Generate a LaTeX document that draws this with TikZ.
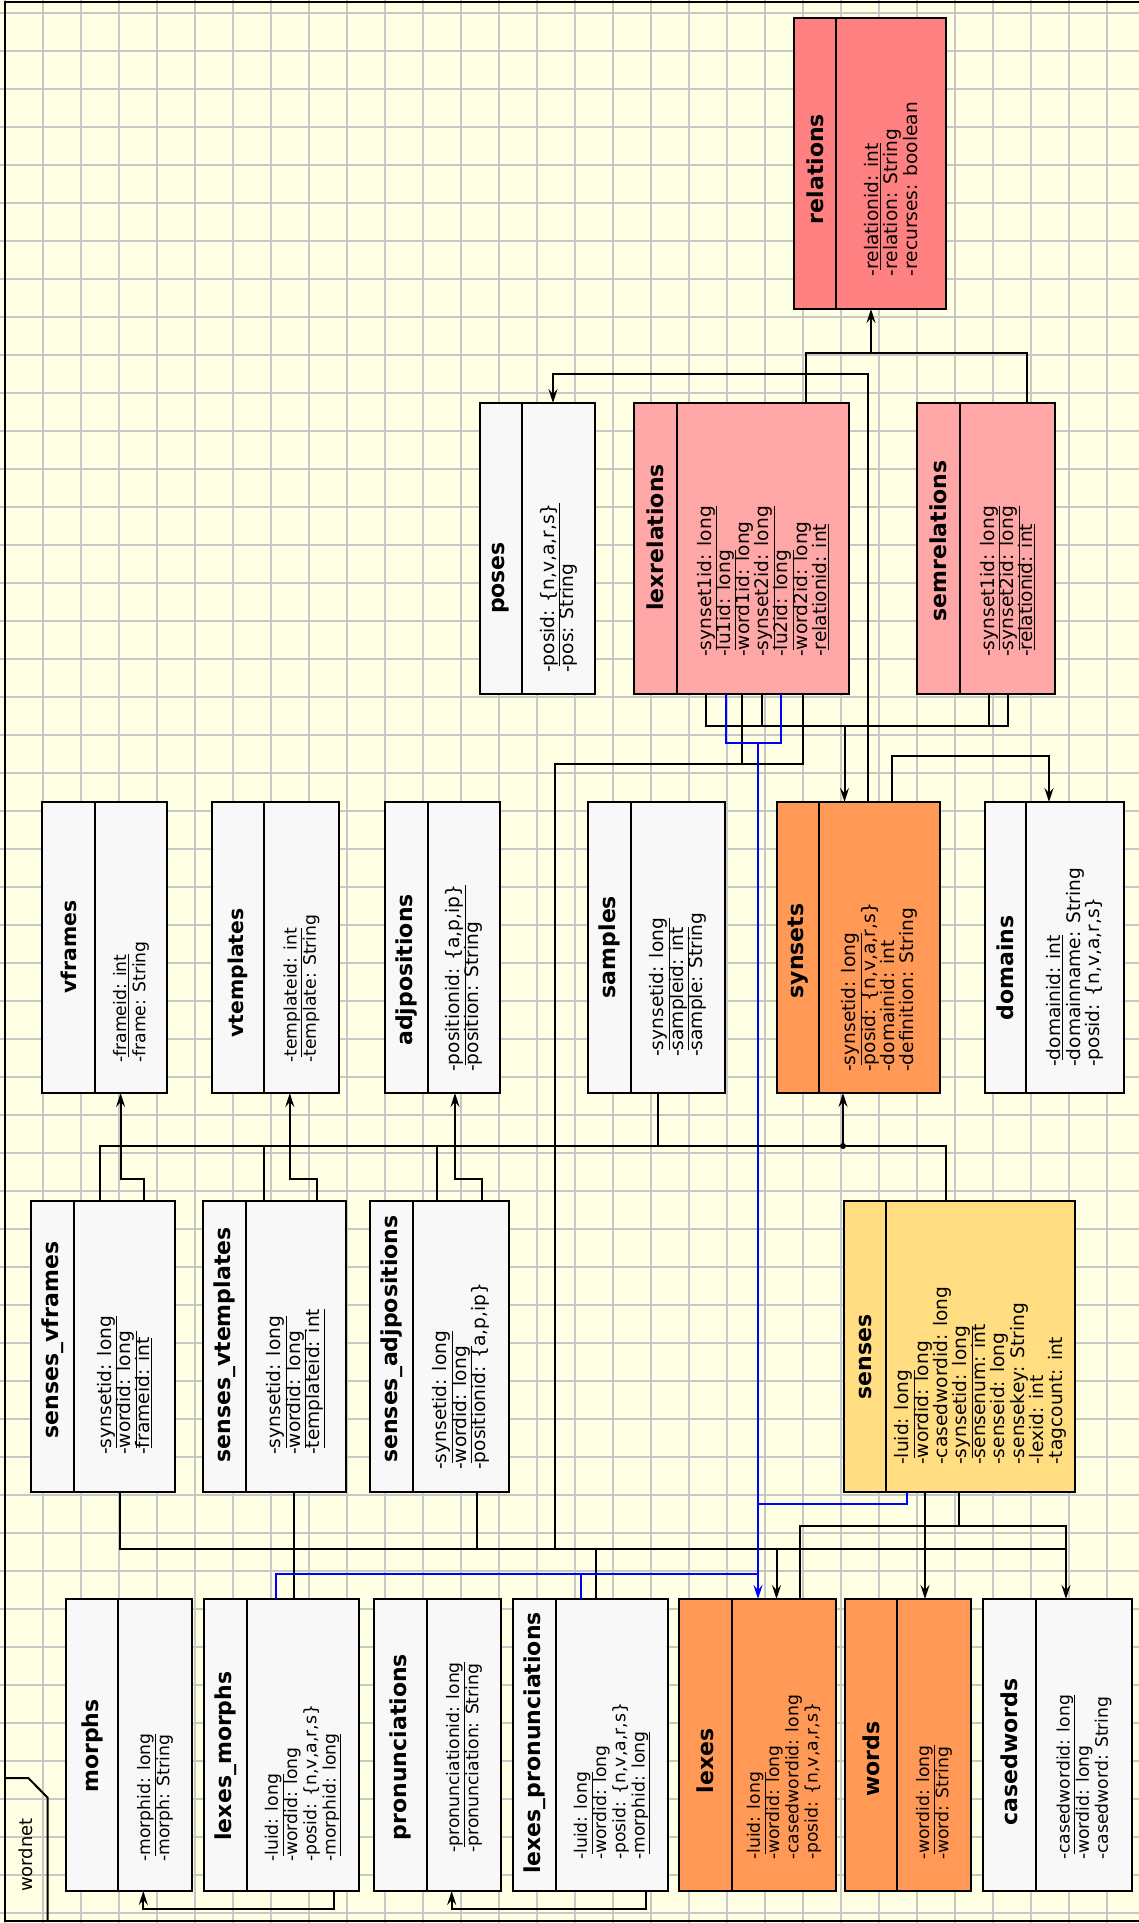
\documentclass[tikz,border=0pt]{standalone}
\usepackage{fontspec}
\setmainfont{DejaVu Sans}
\usepackage{xcolor}
\usetikzlibrary{arrows.meta}

\definecolor{paper}{RGB}{255,255,228}
\definecolor{gridgray}{RGB}{200,200,200}
\definecolor{tblgray}{RGB}{248,248,248}
\definecolor{tblorange}{RGB}{255,153,85}
\definecolor{tblsense}{RGB}{255,221,128}
\definecolor{tblpink}{RGB}{255,166,166}
\definecolor{tblred}{RGB}{255,128,128}

% attribute lines: fixed spacing even with underlines
\newcommand{\attrfont}{\fontsize{18.6}{19.2}\selectfont\lineskiplimit=-20pt\relax}
\newcommand{\attrfontsmall}{\fontsize{17.2}{19.2}\selectfont\lineskiplimit=-20pt\relax}

\begin{document}
\begin{tikzpicture}[
  x=1pt, y=-1pt,
  tbl/.style={draw, line width=2.5pt, inner sep=0pt, outer sep=0pt, minimum height=291},
  ttl/.style={rotate=90, inner sep=0pt, font=\fontsize{22}{24}\selectfont\bfseries},
  ttlsmall/.style={ttl, font=\fontsize{20.4}{22}\selectfont\bfseries},
  attr/.style={rotate=90, anchor=west, align=left, inner sep=0pt, font=\attrfont},
  attrsmall/.style={attr, font=\attrfontsmall},
  div/.style={line width=2pt},
  conn/.style={line width=2pt},
  arr/.style={conn, -{Stealth[length=14pt, width=9pt, inset=5pt]}},
  blueconn/.style={conn, draw=blue},
  bluearr/.style={arr, draw=blue, fill=blue},
  gridline/.style={draw=gridgray, line width=2pt},
  frameline/.style={line width=2pt}
]
  \useasboundingbox (0,0) rectangle (1139,1923);
  \clip (0,0) rectangle (1139,1923);
  \fill[paper] (0,0) rectangle (1139,1923);

  % grid
  \foreach \gx in {0,...,30}
    \draw[gridline] ({5.3+38*\gx},0) -- ++(0,1923);
  \foreach \gy in {0,...,50}
    \draw[gridline] (0,{12.7+38*\gy}) -- ++(1139,0);

  % package frame
  \draw[frameline] (5,1.5) rectangle (1160,1920.5);
  \draw[frameline] (5,1778) -- (28.3,1778) -- (47.7,1797.7) -- (47.7,1920.5);
  \node[rotate=90, inner sep=0pt, font=\fontsize{18}{20}\selectfont] (pkg) at (25.5,1855) {wordnet};

  % tables
  \node[tbl, fill=tblred, minimum width=152] (relations) at (870,163.5) {};
  \node[tbl, fill=tblgray, minimum width=115] (poses) at (537.5,548.5) {};
  \node[tbl, fill=tblpink, minimum width=215] (lexrelations) at (741.5,548.5) {};
  \node[tbl, fill=tblpink, minimum width=138] (semrelations) at (986,548.5) {};
  \node[tbl, fill=tblgray, minimum width=125] (vframes) at (104.5,947.5) {};
  \node[tbl, fill=tblgray, minimum width=127] (vtemplates) at (275.5,947.5) {};
  \node[tbl, fill=tblgray, minimum width=115] (adjpositions) at (442.5,947.5) {};
  \node[tbl, fill=tblgray, minimum width=137] (samples) at (656.5,947.5) {};
  \node[tbl, fill=tblorange, minimum width=163] (synsets) at (858.5,947.5) {};
  \node[tbl, fill=tblgray, minimum width=139] (domains) at (1054.5,947.5) {};
  \node[tbl, fill=tblgray, minimum width=144] (senses_vframes) at (103,1346.5) {};
  \node[tbl, fill=tblgray, minimum width=143] (senses_vtemplates) at (274.5,1346.5) {};
  \node[tbl, fill=tblgray, minimum width=139] (senses_adjpositions) at (439.5,1346.5) {};
  \node[tbl, fill=tblsense, minimum width=231] (senses) at (959.5,1346.5) {};
  \node[tbl, fill=tblgray, minimum width=126, minimum height=292] (morphs) at (129,1745) {};
  \node[tbl, fill=tblgray, minimum width=155, minimum height=292] (lexes_morphs) at (281.5,1745) {};
  \node[tbl, fill=tblgray, minimum width=127, minimum height=292] (pronunciations) at (437.5,1745) {};
  \node[tbl, fill=tblgray, minimum width=155, minimum height=292] (lexes_pronunciations) at (590.5,1745) {};
  \node[tbl, fill=tblorange, minimum width=157, minimum height=292] (lexes) at (757.5,1745) {};
  \node[tbl, fill=tblorange, minimum width=126, minimum height=292] (words) at (908,1745) {};
  \node[tbl, fill=tblgray, minimum width=149, minimum height=292] (casedwords) at (1057.5,1745) {};

  % title dividers
  \draw[div] ([xshift=42]relations.north west) -- ([xshift=42]relations.south west);
  \draw[div] ([xshift=42]poses.north west) -- ([xshift=42]poses.south west);
  \draw[div] ([xshift=42.5]lexrelations.north west) -- ([xshift=42.5]lexrelations.south west);
  \draw[div] ([xshift=43]semrelations.north west) -- ([xshift=43]semrelations.south west);
  \draw[div] ([xshift=53]vframes.north west) -- ([xshift=53]vframes.south west);
  \draw[div] ([xshift=52]vtemplates.north west) -- ([xshift=52]vtemplates.south west);
  \draw[div] ([xshift=43]adjpositions.north west) -- ([xshift=43]adjpositions.south west);
  \draw[div] ([xshift=43]samples.north west) -- ([xshift=43]samples.south west);
  \draw[div] ([xshift=42]synsets.north west) -- ([xshift=42]synsets.south west);
  \draw[div] ([xshift=41]domains.north west) -- ([xshift=41]domains.south west);
  \draw[div] ([xshift=43]senses_vframes.north west) -- ([xshift=43]senses_vframes.south west);
  \draw[div] ([xshift=43]senses_vtemplates.north west) -- ([xshift=43]senses_vtemplates.south west);
  \draw[div] ([xshift=43]senses_adjpositions.north west) -- ([xshift=43]senses_adjpositions.south west);
  \draw[div] ([xshift=42]senses.north west) -- ([xshift=42]senses.south west);
  \draw[div] ([xshift=52]morphs.north west) -- ([xshift=52]morphs.south west);
  \draw[div] ([xshift=43]lexes_morphs.north west) -- ([xshift=43]lexes_morphs.south west);
  \draw[div] ([xshift=53]pronunciations.north west) -- ([xshift=53]pronunciations.south west);
  \draw[div] ([xshift=43]lexes_pronunciations.north west) -- ([xshift=43]lexes_pronunciations.south west);
  \draw[div] ([xshift=53]lexes.north west) -- ([xshift=53]lexes.south west);
  \draw[div] ([xshift=52]words.north west) -- ([xshift=52]words.south west);
  \draw[div] ([xshift=53]casedwords.north west) -- ([xshift=53]casedwords.south west);

  % titles
  \node[ttl] (relations-title) at (815,169) {relations};
  \node[ttl] (poses-title) at (501,578) {poses};
  \node[ttl] (lexrelations-title) at (655,537.5) {lexrelations};
  \node[ttl] (semrelations-title) at (938.5,541) {semrelations};
  \node[ttlsmall] (vframes-title) at (68.5,947) {vframes};
  \node[ttlsmall] (vtemplates-title) at (238,973) {vtemplates};
  \node[ttl] (adjpositions-title) at (406.5,970) {adjpositions};
  \node[ttl] (samples-title) at (609.5,947) {samples};
  \node[ttl] (synsets-title) at (798,951) {synsets};
  \node[ttl] (domains-title) at (1005.5,968) {domains};
  \node[ttl] (senses_vframes-title) at (52.5,1340) {senses\_vframes};
  \node[ttl] (senses_vtemplates-title) at (224.5,1345) {senses\_vtemplates};
  \node[ttl] (senses_adjpositions-title) at (391.5,1339) {senses\_adjpositions};
  \node[ttl] (senses-title) at (865,1357) {senses};
  \node[ttl] (morphs-title) at (92,1746) {morphs};
  \node[ttl] (lexes_morphs-title) at (225.5,1756) {lexes\_morphs};
  \node[ttl] (pronunciations-title) at (400.5,1747) {pronunciations};
  \node[ttl] (lexes_pronunciations-title) at (534.5,1743) {lexes\_pronunciations};
  \node[ttl] (lexes-title) at (705.5,1761) {lexes};
  \node[ttl] (words-title) at (871,1759) {words};
  \node[ttl] (casedwords-title) at (1009.5,1752) {casedwords};

  % attributes
  \node[attr] (relations-attr) at (891,276.5)
    {-\underline{relationid: int}\\-relation: String\\-recurses: boolean};
  \node[attr] (poses-attr) at (558.5,673)
    {-\underline{posid: \{n,v,a,r,s\}}\\-pos: String};
  \node[attr] (lexrelations-attr) at (762.75,657)
    {-\underline{synset1id: long}\\-\underline{lu1id: long}\\-word1id: long\\-\underline{synset2id: long}\\-\underline{lu2id: long}\\-word2id: long\\-\underline{relationid: int}};
  \node[attr] (semrelations-attr) at (1007.5,657)
    {-\underline{synset1id: long}\\-\underline{synset2id: long}\\-\underline{relationid: int}};
  \node[attrsmall] (vframes-attr) at (131,1063)
    {-\underline{frameid: int}\\-frame: String};
  \node[attrsmall] (vtemplates-attr) at (301.5,1063)
    {-\underline{templateid: int}\\-template: String};
  \node[attr] (adjpositions-attr) at (464,1072)
    {-\underline{positionid: \{a,p,ip\}}\\-position: String};
  \node[attr] (samples-attr) at (678,1057)
    {-\underline{synsetid: long}\\-\underline{sampleid: int}\\-sample: String};
  \node[attr] (synsets-attr) at (879.5,1072)
    {-\underline{synsetid: long}\\-posid: \{n,v,a,r,s\}\\-domainid: int\\-definition: String};
  \node[attr] (domains-attr) at (1075,1067)
    {-\underline{domainid: int}\\-domainname: String\\-posid: \{n,v,a,r,s\}};
  \node[attr] (senses_vframes-attr) at (124.5,1455)
    {-\underline{synsetid: long}\\-\underline{wordid: long}\\-\underline{frameid: int}};
  \node[attr] (senses_vtemplates-attr) at (296,1455)
    {-\underline{synsetid: long}\\-\underline{wordid: long}\\-\underline{templateid: int}};
  \node[attr] (senses_adjpositions-attr) at (461,1470)
    {-\underline{synsetid: long}\\-\underline{wordid: long}\\-positionid: \{a,p,ip\}};
  \node[attr] (senses-attr) at (980.5,1465)
    {-\underline{luid: long}\\-wordid: long\\-casedwordid: long\\-\underline{synsetid: long}\\-sensenum: int\\-senseid: long\\-sensekey: String\\-lexid: int\\-tagcount: int};
  \node[attrsmall] (morphs-attr) at (155,1862)
    {-\underline{morphid: long}\\-morph: String};
  \node[attrsmall] (lexes_morphs-attr) at (303,1862)
    {-\underline{luid: long}\\-wordid: long\\-posid: \{n,v,a,r,s\}\\-\underline{morphid: long}};
  \node[attrsmall] (pronunciations-attr) at (464,1853)
    {-\underline{pronunciationid: long}\\-pronunciation: String};
  \node[attrsmall] (lexes_pronunciations-attr) at (612,1860)
    {-\underline{luid: long}\\-wordid: long\\-posid: \{n,v,a,r,s\}\\-\underline{morphid: long}};
  \node[attrsmall] (lexes-attr) at (784,1860)
    {-\underline{luid: long}\\-wordid: long\\-casedwordid: long\\-posid: \{n,v,a,r,s\}};
  \node[attrsmall] (words-attr) at (934,1860)
    {-\underline{wordid: long}\\-word: String};
  \node[attrsmall] (casedwords-attr) at (1084,1860)
    {-\underline{casedwordid: long}\\-wordid: long\\-casedword: String};

  % relations
  \coordinate (relj) at (871,353);
  \draw[conn] ([xshift=172]lexrelations.north west) |- (relj) -| ([xshift=110]semrelations.north west);
  \draw[arr] (relj) -- (relj |- relations.south);

  % poses, domains
  \draw[arr] ([xshift=91]synsets.north west) -- ++(0,-428) -| ([xshift=73]poses.north west);
  \draw[arr] ([xshift=115]synsets.north west) -- ++(0,-46) -| ([xshift=64]domains.north west);

  % synset ids of the relation tables
  \coordinate (synj) at (844.5,726);
  \draw[conn] ([xshift=72]lexrelations.south west) |- (synj) -| ([xshift=91]semrelations.south west);
  \draw[conn] ([xshift=128]lexrelations.south west) -- ++(0,32);
  \draw[conn] ([xshift=72]semrelations.south west) -- ++(0,32);
  \draw[arr] (synj) -- (synj |- synsets.north);

  % word ids
  \coordinate (lexw) at (555,764);
  \coordinate (wbusL) at (120,1549);
  \coordinate (wbusR) at (1066,1549);
  \coordinate (lexarr) at (776.5,1549);
  \draw[conn] ([xshift=169]lexrelations.south west) |- (lexw) -- (lexw |- wbusL);
  \draw[conn] ([xshift=108.4]lexrelations.south west) -- ++(0,70);
  \draw[conn] ([xshift=89]senses_vframes.south west) |- (wbusR);
  \draw[conn] ([xshift=90.5]senses_vtemplates.south west) -- ([xshift=89.5]lexes_morphs.north west);
  \draw[conn] ([xshift=107]senses_adjpositions.south west) -- ++(0,57);
  \draw[conn] ([xshift=83]lexes_pronunciations.north west) -- ++(0,-50);
  \draw[arr] (lexarr) -- (lexarr |- lexes.north);

  % casedwords, words
  \draw[arr] ([xshift=121]lexes.north west) -- ++(0,-73) -| ([xshift=83]casedwords.north west);
  \draw[conn] ([xshift=115]senses.south west) -- ++(0,34);
  \draw[arr] ([xshift=81]senses.south west) -- ([xshift=80]words.north west);

  % lexes luid (blue)
  \coordinate (luj) at (758,743);
  \coordinate (luS) at (758,1504);
  \coordinate (luM) at (758,1574);
  \draw[blueconn] ([xshift=91.5]lexrelations.south west) |- (luj) -| ([xshift=147]lexrelations.south west);
  \draw[bluearr] (luj) -- (luj |- lexes.north);
  \draw[blueconn] ([xshift=62.6]senses.south west) |- (luS);
  \draw[blueconn] ([xshift=72]lexes_morphs.north west) |- (luM);
  \draw[blueconn] ([xshift=68]lexes_pronunciations.north west) -- ++(0,-25);

  % synset ids of the sense tables
  \coordinate (synb) at (843,1146);
  \draw[conn] ([xshift=69]senses_vframes.north west) |- (synb) -| ([xshift=102]senses.north west);
  \draw[conn] ([xshift=61.4]senses_vtemplates.north west) -- ++(0,-55);
  \draw[conn] ([xshift=66.6]senses_adjpositions.north west) -- ++(0,-55);
  \draw[conn] ([xshift=70]samples.south west) -- ++(0,53);
  \draw[arr] (synb) -- (synb |- synsets.south);
  \fill (synb) circle[radius=3];

  % frames, templates, adjpositions
  \draw[arr] ([xshift=112.8]senses_vframes.north west) -- ++(0,-22) -| ([xshift=78.6]vframes.south west);
  \draw[arr] ([xshift=114.4]senses_vtemplates.north west) -- ++(0,-22) -| ([xshift=77.8]vtemplates.south west);
  \draw[arr] ([xshift=112.3]senses_adjpositions.north west) -- ++(0,-22) -| ([xshift=70]adjpositions.south west);

  % morphs, pronunciations
  \draw[arr] ([xshift=130.3]lexes_morphs.south west) -- ++(0,18) -| ([xshift=77.3]morphs.south west);
  \draw[arr] ([xshift=133]lexes_pronunciations.south west) -- ++(0,18) -| ([xshift=77.7]pronunciations.south west);
\end{tikzpicture}
\end{document}
